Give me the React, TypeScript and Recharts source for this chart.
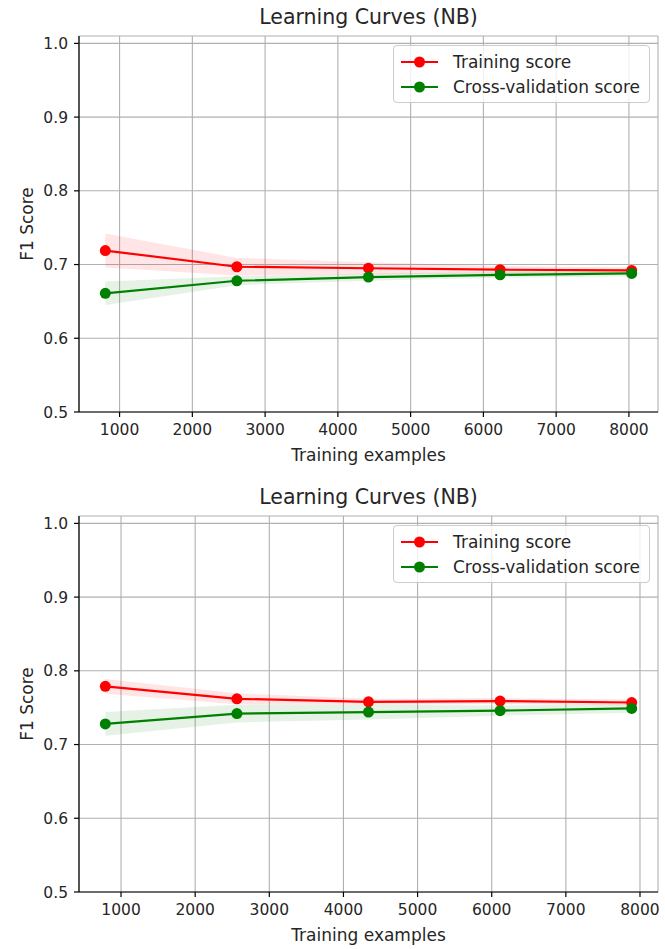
import React from 'react';
import {
  ComposedChart,
  Line,
  Area,
  XAxis,
  YAxis,
  CartesianGrid,
  Legend,
} from 'recharts';

// NB learning curves, two runs
const sizesA = [804, 2612, 4420, 6229, 8038];
const trainMeanA = [0.719, 0.697, 0.695, 0.693, 0.692];
const trainStdA = [0.023, 0.012, 0.008, 0.005, 0.004];
const cvMeanA = [0.661, 0.678, 0.683, 0.686, 0.688];
const cvStdA = [0.016, 0.006, 0.005, 0.004, 0.004];

const sizesB = [788, 2563, 4338, 6113, 7888];
const trainMeanB = [0.779, 0.762, 0.758, 0.759, 0.757];
const trainStdB = [0.01, 0.0075, 0.004, 0.004, 0.004];
const cvMeanB = [0.728, 0.742, 0.744, 0.746, 0.749];
const cvStdB = [0.016, 0.012, 0.01, 0.007, 0.006];

const xTicks = [1000, 2000, 3000, 4000, 5000, 6000, 7000, 8000];
const yTicks = [0.5, 0.6, 0.7, 0.8, 0.9, 1.0];
const yDomain: [number, number] = [0.5, 1.01];

const seriesNames = [
  { name: 'Training score', color: '#ff0000' },
  { name: 'Cross-validation score', color: '#008000' },
];

const FONT = '"DejaVu Sans", sans-serif';
const TEXT = '#262626';

type CurveProps = {
  sizes: number[];
  trainMean: number[];
  trainStd: number[];
  cvMean: number[];
  cvStd: number[];
  height: number;
};

function LegendBox() {
  return (
    <div
      style={{
        width: 255,
        height: 56,
        border: '1px solid #cccccc',
        borderRadius: 4,
        background: 'rgba(255,255,255,0.8)',
        fontFamily: FONT,
        fontSize: 17,
        color: TEXT,
        boxSizing: 'content-box',
      }}
    >
      {seriesNames.map((s, i) => (
        <div
          key={s.name}
          style={{ display: 'flex', alignItems: 'center', height: 25, marginTop: i === 0 ? 3 : 0 }}
        >
          <svg width={59} height={14} style={{ flex: 'none' }}>
            <line x1={7} y1={7} x2={44} y2={7} stroke={s.color} strokeWidth={2.2} />
            <circle cx={25.5} cy={7} r={5.5} fill={s.color} />
          </svg>
          <span>{s.name}</span>
        </div>
      ))}
    </div>
  );
}

function LearningCurve({ sizes, trainMean, trainStd, cvMean, cvStd, height }: CurveProps) {
  const data = sizes.map((x, i) => ({
    x,
    train: trainMean[i],
    trainBand: [trainMean[i] - trainStd[i], trainMean[i] + trainStd[i]],
    cv: cvMean[i],
    cvBand: [cvMean[i] - cvStd[i], cvMean[i] + cvStd[i]],
  }));

  // 5% autoscale margin on x, like matplotlib
  const lo = Math.min(...sizes);
  const hi = Math.max(...sizes);
  const pad = (hi - lo) * 0.05;
  const xDomain: [number, number] = [lo - pad, hi + pad];

  const tickStyle = { fill: TEXT, fontSize: 15.5, fontFamily: FONT };

  return (
    <div style={{ position: 'relative', width: 665, height }}>
      <div
        style={{
          position: 'absolute',
          left: 79,
          width: 579,
          top: 5,
          textAlign: 'center',
          fontFamily: FONT,
          fontSize: 20.5,
          lineHeight: '24px',
          color: TEXT,
        }}
      >
        Learning Curves (NB)
      </div>
      <ComposedChart
        width={665}
        height={height}
        data={data}
        margin={{ top: 36, right: 7, bottom: height - 462, left: 19 }}
      >
        <CartesianGrid stroke="#b0b0b0" strokeWidth={1.1} />
        <XAxis
          dataKey="x"
          type="number"
          domain={xDomain}
          ticks={xTicks}
          allowDataOverflow
          height={50}
          tickSize={5}
          tickMargin={7}
          tick={tickStyle}
          stroke="#000"
          strokeWidth={1.2}
          label={{
            value: 'Training examples',
            position: 'insideBottom',
            offset: 1,
            fill: TEXT,
            fontSize: 17,
            fontFamily: FONT,
          }}
        />
        <XAxis
          xAxisId="top"
          orientation="top"
          type="number"
          domain={xDomain}
          allowDataOverflow
          height={0}
          tick={false}
          tickLine={false}
          stroke="#000"
          strokeWidth={1.2}
        />
        <YAxis
          type="number"
          domain={yDomain}
          ticks={yTicks}
          allowDataOverflow
          width={60}
          tickSize={5}
          tickMargin={6}
          tick={tickStyle}
          tickFormatter={(v: number) => v.toFixed(1)}
          stroke="#000"
          strokeWidth={1.2}
          label={{
            value: 'F1 Score',
            angle: -90,
            position: 'insideLeft',
            offset: 8,
            fill: TEXT,
            fontSize: 17,
            fontFamily: FONT,
            style: { textAnchor: 'middle' },
          }}
        />
        <YAxis
          yAxisId="right"
          orientation="right"
          type="number"
          domain={yDomain}
          allowDataOverflow
          width={0}
          tick={false}
          tickLine={false}
          stroke="#000"
          strokeWidth={1.2}
        />
        <Area
          dataKey="trainBand"
          type="linear"
          stroke="none"
          fill="#ff0000"
          fillOpacity={0.1}
          activeDot={false}
          isAnimationActive={false}
        />
        <Area
          dataKey="cvBand"
          type="linear"
          stroke="none"
          fill="#008000"
          fillOpacity={0.1}
          activeDot={false}
          isAnimationActive={false}
        />
        <Line
          dataKey="train"
          type="linear"
          stroke="#ff0000"
          strokeWidth={2.2}
          dot={{ r: 5.5, fill: '#ff0000', stroke: '#ff0000', strokeWidth: 0 }}
          activeDot={false}
          isAnimationActive={false}
        />
        <Line
          dataKey="cv"
          type="linear"
          stroke="#008000"
          strokeWidth={2.2}
          dot={{ r: 5.5, fill: '#008000', stroke: '#008000', strokeWidth: 0 }}
          activeDot={false}
          isAnimationActive={false}
        />
        <Legend
          layout="horizontal"
          verticalAlign="middle"
          align="center"
          wrapperStyle={{ left: 393, top: 45, width: 257, height: 58 }}
          content={() => <LegendBox />}
        />
      </ComposedChart>
    </div>
  );
}

export default function App() {
  return (
    <div style={{ position: 'absolute', left: 0, top: 0, width: 665, height: 949, background: '#fff' }}>
      <LearningCurve
        sizes={sizesA}
        trainMean={trainMeanA}
        trainStd={trainStdA}
        cvMean={cvMeanA}
        cvStd={cvStdA}
        height={480}
      />
      <LearningCurve
        sizes={sizesB}
        trainMean={trainMeanB}
        trainStd={trainStdB}
        cvMean={cvMeanB}
        cvStd={cvStdB}
        height={469}
      />
    </div>
  );
}
